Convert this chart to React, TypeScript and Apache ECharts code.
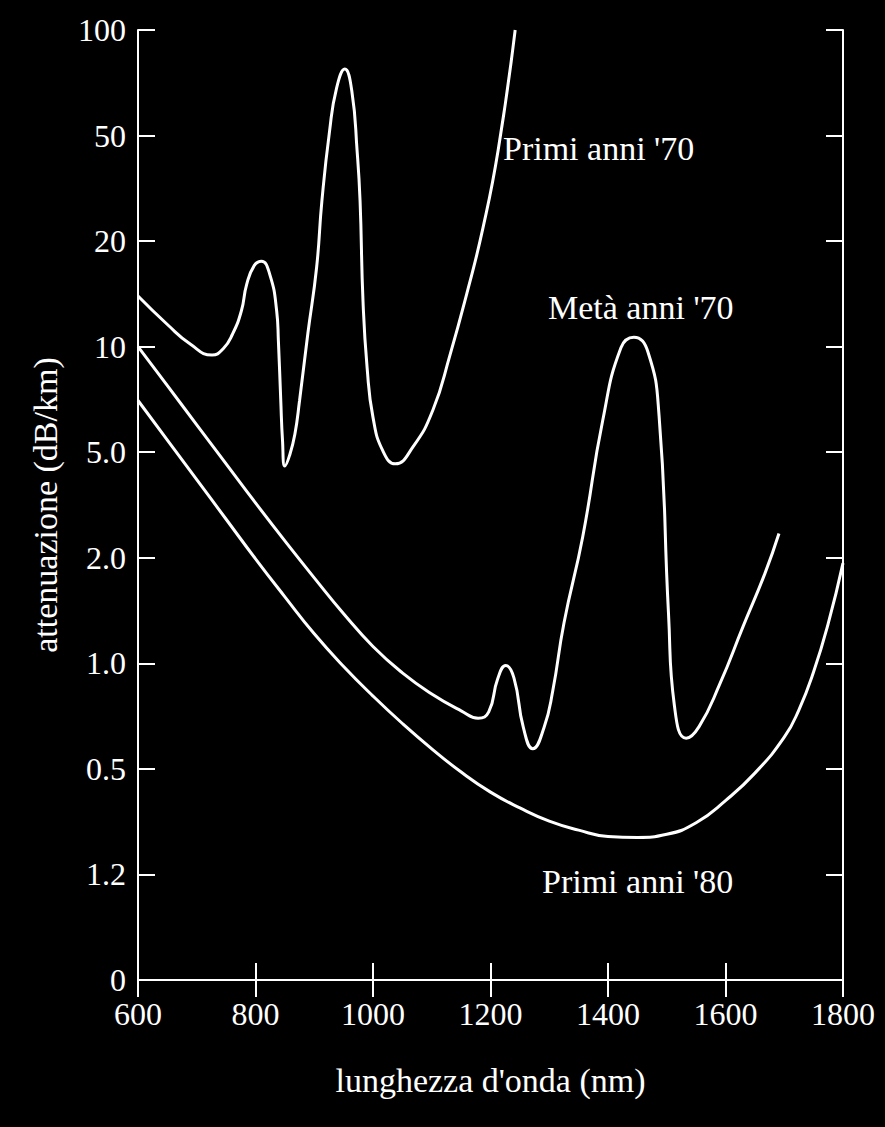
import React, { useEffect, useRef } from "react";
import * as echarts from "echarts";

// y axis: evenly spaced tick positions (index 0..9) with printed labels
const yTickLabels = ["0", "1.2", "0.5", "1.0", "2.0", "5.0", "10", "20", "50", "100"];
const xTicks = [600, 800, 1000, 1200, 1400, 1600, 1800];

// [wavelength nm, position on the y scale in tick-index units]
const early70s: [number, number][] = [
  [600, 6.48], [650, 6.21], [690, 6.02], [726, 5.92], [745, 5.98], [761, 6.12],
  [776, 6.34], [785, 6.59], [798, 6.77], [810, 6.81], [824, 6.69], [836, 6.34], [839, 6.05],
  [843, 5.49], [846, 5.11], [850, 4.87], [858, 4.97], [867, 5.17], [875, 5.49], [889, 6.12],
  [904, 6.75], [913, 7.38], [926, 8.04], [938, 8.45], [952, 8.63], [964, 8.42], [973, 7.85],
  [978, 7.38], [983, 6.43], [990, 5.8], [1000, 5.33], [1017, 5.01], [1038, 4.89], [1068, 5.05],
  [1102, 5.4], [1131, 5.92], [1160, 6.51], [1187, 7.12], [1213, 7.86], [1242, 9.0],
];

const mid70s: [number, number][] = [
  [600, 6.0], [650, 5.63], [700, 5.26], [750, 4.89], [800, 4.52], [850, 4.16], [900, 3.81],
  [950, 3.47], [1000, 3.16], [1050, 2.91], [1100, 2.71], [1150, 2.55], [1179, 2.48], [1197, 2.54],
  [1212, 2.85], [1226, 2.98], [1240, 2.86], [1256, 2.39], [1272, 2.19], [1291, 2.39], [1306, 2.74],
  [1325, 3.38], [1357, 4.2], [1391, 5.3], [1422, 5.99], [1444, 6.09], [1468, 5.95], [1487, 5.34],
  [1503, 3.47], [1513, 2.6], [1533, 2.29], [1555, 2.4], [1590, 2.8], [1630, 3.35], [1667, 3.85],
  [1691, 4.23],
];

const early80s: [number, number][] = [
  [600, 5.49], [650, 5.115], [700, 4.74], [750, 4.365], [800, 3.99], [850, 3.63], [900, 3.28],
  [950, 2.97], [1000, 2.69], [1050, 2.43], [1100, 2.19], [1150, 1.97], [1200, 1.78], [1250, 1.63],
  [1300, 1.505], [1350, 1.42], [1400, 1.36], [1450, 1.35], [1500, 1.38], [1550, 1.49], [1600, 1.7],
  [1650, 1.96], [1700, 2.3], [1725, 2.56], [1750, 2.92], [1775, 3.38], [1800, 3.95],
];

const seriesNames = ["Primi anni '70", "Metà anni '70", "Primi anni '80"];

const FONT = "'Liberation Serif', 'Times New Roman', serif";

export default function App() {
  const ref = useRef<HTMLDivElement>(null);
  useEffect(() => {
    if (!ref.current) return;
    const chart = echarts.init(ref.current, null, { renderer: "svg" });
    const axisLine = { show: true, lineStyle: { color: "#fff", width: 2 } };
    const tickStyle = { inside: true, length: 17, lineStyle: { color: "#fff", width: 2 } };
    const lineSeries = (name: string, data: [number, number][]) => ({
      name,
      type: "line",
      data,
      showSymbol: false,
      smooth: 0.5,
      lineStyle: { color: "#fff", width: 3 },
      clip: true,
    });
    chart.setOption({
      animation: false,
      backgroundColor: "#000",
      textStyle: { fontFamily: FONT },
      grid: { left: 138, right: 42, top: 30, bottom: 147, containLabel: false },
      xAxis: [
        {
          type: "value",
          position: "bottom",
          min: xTicks[0],
          max: xTicks[xTicks.length - 1],
          interval: 200,
          axisLine,
          axisTick: tickStyle,
          splitLine: { show: false },
          axisLabel: {
            color: "#fff",
            fontSize: 32,
            fontFamily: FONT,
            margin: 18,
            formatter: (v: number) => String(v),
          },
          name: "lunghezza d'onda (nm)",
          nameLocation: "middle",
          nameGap: 83,
          nameTextStyle: { color: "#fff", fontSize: 34, fontFamily: FONT },
        },
        {
          type: "value",
          position: "top",
          min: xTicks[0],
          max: xTicks[xTicks.length - 1],
          interval: 200,
          axisLine,
          axisTick: tickStyle,
          splitLine: { show: false },
          axisLabel: { show: false },
        },
      ],
      yAxis: [
        {
          type: "value",
          position: "left",
          min: 0,
          max: 9,
          interval: 1,
          axisLine,
          axisTick: tickStyle,
          splitLine: { show: false },
          axisLabel: {
            color: "#fff",
            fontSize: 32,
            fontFamily: FONT,
            margin: 12,
            formatter: (v: number) => yTickLabels[Math.round(v)] ?? "",
          },
          name: "attenuazione (dB/km)",
          nameLocation: "middle",
          nameGap: 76,
          nameRotate: 90,
          nameTextStyle: { color: "#fff", fontSize: 34, fontFamily: FONT },
        },
        {
          type: "value",
          position: "right",
          min: 0,
          max: 9,
          interval: 1,
          axisLine,
          axisTick: tickStyle,
          splitLine: { show: false },
          axisLabel: { show: false },
        },
      ],
      graphic: [
        { type: "text", left: 503, top: 131, style: { text: seriesNames[0], fill: "#fff", font: `34px ${FONT}` } },
        { type: "text", left: 548, top: 290, style: { text: seriesNames[1], fill: "#fff", font: `34px ${FONT}` } },
        { type: "text", left: 542, top: 864, style: { text: seriesNames[2], fill: "#fff", font: `34px ${FONT}` } },
      ],
      series: [
        lineSeries(seriesNames[0], early70s),
        lineSeries(seriesNames[1], mid70s),
        lineSeries(seriesNames[2], early80s),
      ],
    });
    return () => chart.dispose();
  }, []);
  return (
    <div
      ref={ref}
      style={{ position: "fixed", left: 0, top: 0, width: 885, height: 1127, background: "#000" }}
    />
  );
}
